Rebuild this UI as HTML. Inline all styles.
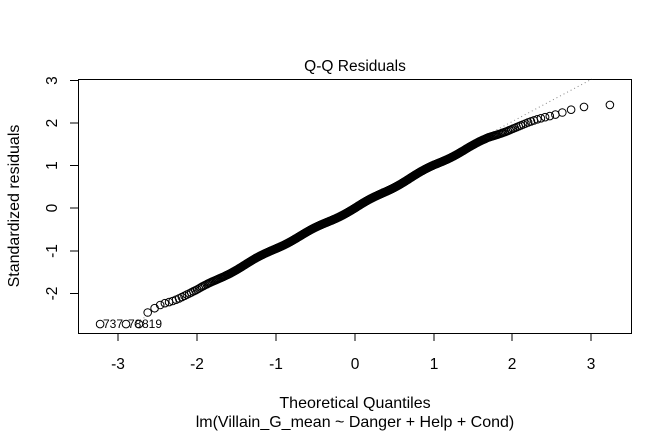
<!DOCTYPE html>
<html><head><style>
html,body{margin:0;padding:0;background:#fff;}
svg text{font-family:"Liberation Sans",Arial,sans-serif;fill:#000;}
</style></head><body>
<svg id="s" width="672" height="432" viewBox="0 0 672 432" xmlns="http://www.w3.org/2000/svg">
<rect x="0" y="0" width="672" height="432" fill="#fff"/>
<text x="355" y="71" font-size="15.5" text-anchor="middle">Q-Q Residuals</text>
<rect x="78.5" y="79.5" width="553" height="254" fill="none" stroke="#000" stroke-width="1"/>
<g stroke="#000" stroke-width="1">
<line x1="118" y1="333" x2="118" y2="341"/><line x1="197" y1="333" x2="197" y2="341"/>
<line x1="276" y1="333" x2="276" y2="341"/><line x1="355" y1="333" x2="355" y2="341"/>
<line x1="434" y1="333" x2="434" y2="341"/><line x1="512" y1="333" x2="512" y2="341"/>
<line x1="591" y1="333" x2="591" y2="341"/>
<line x1="70" y1="80.5" x2="78" y2="80.5"/><line x1="70" y1="123" x2="78" y2="123"/>
<line x1="70" y1="165.5" x2="78" y2="165.5"/><line x1="70" y1="208" x2="78" y2="208"/>
<line x1="70" y1="251" x2="78" y2="251"/><line x1="70" y1="293.5" x2="78" y2="293.5"/>
</g>
<g font-size="15.5" text-anchor="middle">
<text x="118" y="369">-3</text><text x="197" y="369">-2</text><text x="276" y="369">-1</text>
<text x="355" y="369">0</text><text x="434" y="369">1</text><text x="512" y="369">2</text><text x="591" y="369">3</text>
<text transform="translate(57,80.5) rotate(-90)">3</text>
<text transform="translate(57,123) rotate(-90)">2</text>
<text transform="translate(57,165.5) rotate(-90)">1</text>
<text transform="translate(57,208) rotate(-90)">0</text>
<text transform="translate(57,251) rotate(-90)">-1</text>
<text transform="translate(57,293.5) rotate(-90)">-2</text>
<text transform="translate(19,206) rotate(-90)" font-size="16">Standardized residuals</text>
<text x="355" y="408" font-size="16">Theoretical Quantiles</text>
<text x="355" y="427" font-size="16">lm(Villain_G_mean ~ Danger + Help + Cond)</text>
</g>
<line x1="140" y1="320" x2="592" y2="79" stroke="#888" stroke-width="1" stroke-dasharray="1,3"/>
<g id="pts" fill="none" stroke="#000" stroke-width="1"></g>
<g font-size="12">
<text x="103" y="328">737</text><text x="128" y="328">78</text><text x="142" y="328">819</text>
</g>
</svg>
<script>
function inv(p){var a=[-39.6968302866538,220.946098424521,-275.928510446969,138.357751867269,-30.6647980661472,2.50662827745924],b=[-54.4760987982241,161.585836858041,-155.698979859887,66.8013118877197,-13.2806815528857],c=[-0.00778489400243029,-0.322396458041136,-2.40076449636112,-2.54973253934361,4.37466414146497,2.93816398269878],d=[0.00778469570904146,0.32246712907004,2.445134137143,3.75440866190742];var q,r;if(p<0.02425){q=Math.sqrt(-2*Math.log(p));return(((((c[0]*q+c[1])*q+c[2])*q+c[3])*q+c[4])*q+c[5])/((((d[0]*q+d[1])*q+d[2])*q+d[3])*q+1);}if(p>1-0.02425){q=Math.sqrt(-2*Math.log(1-p));return-(((((c[0]*q+c[1])*q+c[2])*q+c[3])*q+c[4])*q+c[5])/((((d[0]*q+d[1])*q+d[2])*q+d[3])*q+1);}q=p-0.5;r=q*q;return(((((a[0]*r+a[1])*r+a[2])*r+a[3])*r+a[4])*r+a[5])*q/(((((b[0]*r+b[1])*r+b[2])*r+b[3])*r+b[4])*r+1);}
var K=[[-3.4,-2.75],[-2.7,-2.55],[-2.45,-2.25],[-2.3,-2.15],[-2,-1.92],[-1,-0.94],[0,0],[1,1.0],[1.7,1.65],[2,1.87],[2.3,2.05],[2.7,2.3],[3.4,2.47]];
function f(q){for(var i=0;i<K.length-1;i++){if(q<=K[i+1][0]){var t=(q-K[i][0])/(K[i+1][0]-K[i][0]);return K[i][1]+t*(K[i+1][1]-K[i][1]);}}return K[K.length-1][1];}
var n=820,g=document.getElementById('pts'),h='';
for(var i=1;i<=n;i++){var q=inv((i-0.5)/n);var r=f(q)+0.02*Math.sin(q*9);if(i<=3)r=-2.72;
var x=355+78.8*q,y=208-42.7*r;h+='<circle cx="'+x.toFixed(1)+'" cy="'+y.toFixed(1)+'" r="3.8"/>';}
g.innerHTML=h;
</script>
</body></html>
